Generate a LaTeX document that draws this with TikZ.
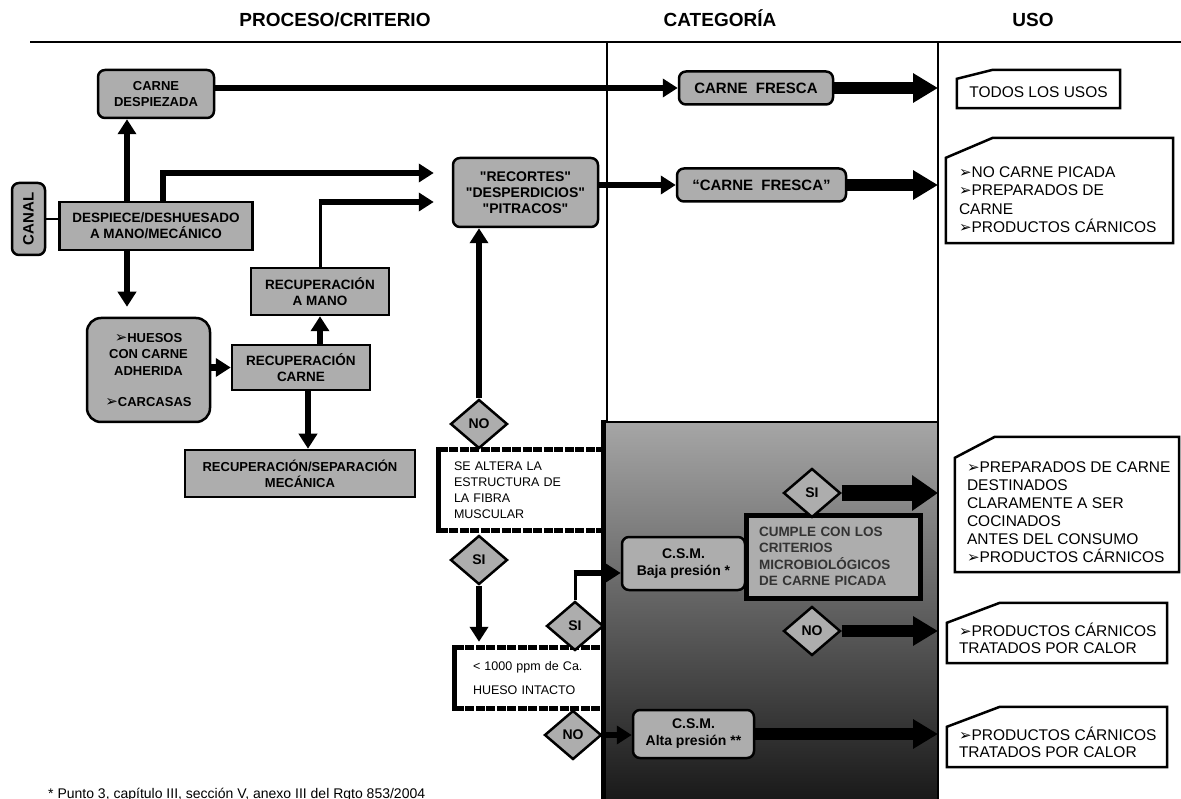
\documentclass[tikz,border=0pt]{standalone}
\usepackage{fontspec}
\setmainfont{Liberation Sans}
\newfontfamily\symf{DejaVu Sans}
\usetikzlibrary{arrows.meta,shapes.geometric}
\definecolor{boxgray}{gray}{0.68}
\newcommand\bul{{\symf\fontsize{15}{12}\selectfont\char"27A2}}
\newcommand\qq{\XeTeXglyph\XeTeXglyphindex "quotedbl"\relax}
\tikzset{
  gbox/.style={draw, line width=2.5pt, fill=boxgray, inner sep=0pt, align=center,
    font=\bfseries\fontsize{13.5}{16}\selectfont},
  rbox/.style={gbox, rounded corners=7pt},
  dia/.style={diamond, draw, line width=2.5pt, fill=boxgray, inner sep=0pt,
    minimum width=57pt, minimum height=49pt, font=\bfseries\fontsize{14}{15}\selectfont},
  crit/.style={inner ysep=0pt, inner xsep=15pt, align=left, font=\fontsize{12.5}{16}\selectfont},
  dashbar/.style={line width=5pt, dash pattern=on 9pt off 1.5pt},
  solidbar/.style={line width=5pt},
  ubox/.style={inner sep=0pt},
  uline/.style={draw, line width=2.5pt, fill=white},
  utext/.style={inner sep=0pt, align=left, font=\fontsize{15.5}{18.5}\selectfont},
  hdr/.style={anchor=base, font=\bfseries\fontsize{19}{22}\selectfont},
  arr/.style={line width=6.5pt, -{Triangle[length=15pt,width=18pt]}},
  bigarr/.style={line width=12pt, -{Triangle[length=25pt,width=28pt]}},
  hugearr/.style={line width=16pt, -{Triangle[length=26pt,width=34pt]}},
  thinl/.style={line width=3pt},
}
\begin{document}
\begin{tikzpicture}[x=1pt,y=-1pt]
\useasboundingbox (0,0) rectangle (1181,799);
% shaded region
\shade[top color=black!35, middle color=black!57, bottom color=black!90] (603,422) rectangle (938,799);
\draw[line width=1.5pt] (603,422) -- (938,422);
\draw[line width=5pt] (603,420) -- (603,799);
% header
\node[hdr] (h1) at (335,27) {PROCESO/CRITERIO};
\node[hdr] (h2) at (720,27) {CATEGORÍA};
\node[hdr] (h3) at (1033,27) {USO};
\draw[line width=2.5pt] (30,42) -- (1181,42);
\draw[line width=1.8pt] (607,42) -- (607,422);
\draw[line width=2pt] (938,42) -- (938,799);
\coordinate (colB) at (938,0);

% process boxes
\node[rbox, minimum width=116pt, minimum height=48pt, font=\bfseries\fontsize{13}{16.5}\selectfont] (cd) at (156,94) {CARNE\\DESPIEZADA};
\node[rbox, minimum width=33pt, minimum height=72pt, font=\bfseries\fontsize{15}{16}\selectfont] (canal) at (28.5,219) {\rotatebox{90}{CANAL}};
\node[gbox, minimum width=193pt, minimum height=48pt] (desp) at (156,226) {DESPIECE/DESHUESADO\\A MANO/MECÁNICO};
\node[gbox, minimum width=138pt, minimum height=47pt] (recm) at (320,291.5) {RECUPERACIÓN\\A MANO};
\node[rbox, minimum width=145pt, minimum height=69pt, font=\bfseries\fontsize{14}{16}\selectfont] (rec) at (525.5,192.5) {\qq RECORTES\qq\\\qq DESPERDICIOS\qq\\\qq PITRACOS\qq};
\node[rbox, minimum width=154pt, minimum height=33pt, font=\bfseries\fontsize{15}{16}\selectfont] (cf1) at (756,88) {CARNE\ \ FRESCA};
\node[rbox, minimum width=169pt, minimum height=33pt, font=\bfseries\fontsize{15}{16}\selectfont] (cf2) at (761.5,185) {“CARNE\ \ FRESCA”};
\node[rbox, rounded corners=14pt, minimum width=123pt, minimum height=104pt, font=\bfseries\fontsize{13}{16.5}\selectfont] (hue) at (148.5,370) {\bul HUESOS\\CON CARNE\\ADHERIDA\\[15pt]\bul CARCASAS};
\node[gbox, minimum width=138pt, minimum height=45pt] (rcar) at (301,367.5) {RECUPERACIÓN\\CARNE};
\node[gbox, minimum width=230pt, minimum height=47pt, font=\bfseries\fontsize{13}{16}\selectfont] (rsm) at (300,473.5) {RECUPERACIÓN/SEPARACIÓN\\MECÁNICA};

% criteria
\node[dia] (no1) at (479,424) {NO};
\node[crit, text width=134pt, minimum height=80pt] (alt) at (521,490) {SE ALTERA LA\\ESTRUCTURA DE\\LA FIBRA\\MUSCULAR};
\draw[solidbar] ([yshift=2.5pt]alt.north west) -- ([yshift=-2.5pt]alt.south west);
\draw[dashbar] (alt.north west) -- (alt.north east);
\draw[dashbar] (alt.south west) -- (alt.south east);
\node[dia] (si1) at (479,560) {SI};
\node[crit, inner xsep=18pt, text width=112pt, minimum height=60pt, font=\fontsize{12.5}{24}\selectfont] (ppm) at (529,678) {<~1000 ppm de Ca.\\HUESO INTACTO};
\draw[solidbar] ([yshift=2.5pt]ppm.north west) -- ([yshift=-2.5pt]ppm.south west);
\draw[dashbar] (ppm.north west) -- (ppm.north east);
\draw[dashbar] (ppm.south west) -- (ppm.south east);
\node[dia] (si2) at (575,626) {SI};
\node[dia] (no2) at (573,735) {NO};

% category region
\node[rbox, minimum width=123pt, minimum height=53pt, font=\bfseries\fontsize{14}{17}\selectfont] (csmb) at (683.5,563.5) {C.S.M.\\Baja presión *};
\node[gbox, line width=5pt, text width=148pt, inner xsep=13pt, minimum height=83pt, align=left, text=black!80, font=\bfseries\fontsize{13.5}{16.5}\selectfont] (cump) at (833,556.5) {CUMPLE CON LOS\\CRITERIOS\\MICROBIOLÓGICOS\\DE CARNE PICADA};
\node[dia] (si3) at (812,493) {SI};
\node[dia] (no3) at (812,631) {NO};
\node[rbox, minimum width=121pt, minimum height=48pt, font=\bfseries\fontsize{14}{17}\selectfont] (csma) at (693.5,734) {C.S.M.\\Alta presión **};

% uses
\node[ubox, minimum width=163pt, minimum height=38pt] (u1) at (1038.5,89) {};
\draw[uline] (u1.south west) -- ([yshift=-9pt]u1.north west) -- ([xshift=36pt]u1.north west) -- (u1.north east) -- (u1.south east) -- cycle;
\node[utext] (u1t) at ([yshift=-3pt]u1.center) {TODOS LOS USOS};

\node[ubox, minimum width=227pt, minimum height=105pt] (u2) at (1059.5,190.5) {};
\draw[uline] (u2.south west) -- ([yshift=-20pt]u2.north west) -- ([xshift=47pt]u2.north west) -- (u2.north east) -- (u2.south east) -- cycle;
\node[utext, anchor=west] (u2t) at ([xshift=13pt,yshift=-9pt]u2.west) {\bul NO CARNE PICADA\\\bul PREPARADOS DE\\CARNE\\\bul PRODUCTOS CÁRNICOS};

\node[ubox, minimum width=224pt, minimum height=135pt] (u3) at (1067,504.5) {};
\draw[uline] (u3.south west) -- ([yshift=-21pt]u3.north west) -- ([xshift=40pt]u3.north west) -- (u3.north east) -- (u3.south east) -- cycle;
\node[utext, anchor=west, font=\fontsize{15.5}{18}\selectfont] (u3t) at ([xshift=12pt,yshift=-7.5pt]u3.west) {\bul PREPARADOS DE CARNE\\DESTINADOS\\CLARAMENTE A SER\\COCINADOS\\ANTES DEL CONSUMO\\\bul PRODUCTOS CÁRNICOS};

\node[ubox, minimum width=220pt, minimum height=60pt] (u4) at (1057,633) {};
\draw[uline] (u4.south west) -- ([yshift=-20pt]u4.north west) -- ([xshift=53pt]u4.north west) -- (u4.north east) -- (u4.south east) -- cycle;
\node[utext, anchor=west, font=\fontsize{15.5}{17.5}\selectfont] (u4t) at ([xshift=12pt,yshift=-5.5pt]u4.west) {\bul PRODUCTOS CÁRNICOS\\TRATADOS POR CALOR};

\node[ubox, minimum width=220pt, minimum height=60pt] (u5) at (1057,737) {};
\draw[uline] (u5.south west) -- ([yshift=-20pt]u5.north west) -- ([xshift=53pt]u5.north west) -- (u5.north east) -- (u5.south east) -- cycle;
\node[utext, anchor=west, font=\fontsize{15.5}{17.5}\selectfont] (u5t) at ([xshift=12pt,yshift=-5.5pt]u5.west) {\bul PRODUCTOS CÁRNICOS\\TRATADOS POR CALOR};

% footnote
\node[anchor=base west, inner sep=0pt, font=\fontsize{14}{16}\selectfont] (fn) at (48,798) {* Punto 3, capítulo III, sección V, anexo III del Rgto 853/2004};

% connectors
\coordinate (dN) at ([xshift=-29pt]desp.north);
\coordinate (dS) at ([xshift=-29pt]desp.south);
\coordinate (cdS) at ([xshift=-29pt]cd.south);
\coordinate (hueT) at ([yshift=10pt]hue.north);
\coordinate (dN2) at ([xshift=7pt]desp.north);
\coordinate (recA) at ([xshift=-18pt,yshift=19.5pt]rec.west);
\coordinate (recB) at ([xshift=-18pt,yshift=-9.5pt]rec.west);
\coordinate (rcS) at ([xshift=7pt]rcar.south);
\coordinate (ppmT) at ([yshift=6pt]ppm.north);
\coordinate (csmbW) at ([yshift=-9.5pt]csmb.west);

\draw[thinl, line width=2pt] (canal.east) -- (canal.east -| desp.west);
\draw[arr] (cd.east |- cf1.west) -- (cf1.west);
\draw[bigarr] (cf1.east) -- (cf1.east -| colB);
\draw[arr] (dN) -- (cdS);
\draw[arr] (dS) -- (dS |- hueT);
\draw[arr] (dN2) |- (recA);
\draw[thinl] (recm.north) -- (recm.north |- recB);
\draw[arr] ([xshift=-1.5pt]recm.north |- recB) -- (recB);
\draw[arr] (rec.east |- cf2.west) -- (cf2.west);
\draw[bigarr] (cf2.east) -- (cf2.east -| colB);
\draw[arr] (no1.north) -- (no1.north |- rec.south);
\draw[arr] (hue.east |- rcar.west) -- (rcar.west);
\draw[arr] (recm.south |- rcar.north) -- (recm.south);
\draw[arr] (rcS) -- (rcS |- rsm.north);
\draw[arr] (si1.south) -- (si1.south |- ppmT);
\draw[thinl] (si2.north) -- (si2.north |- csmbW);
\draw[arr] ([xshift=-1.5pt]si2.north |- csmbW) -- (csmbW);
\draw[arr] (no2.east) -- (no2.east -| csma.west);
\draw[hugearr] (si3.east) -- (si3.east -| colB);
\draw[bigarr] (no3.east) -- (no3.east -| colB);
\draw[bigarr] (csma.east) -- (csma.east -| colB);
\end{tikzpicture}
\end{document}
